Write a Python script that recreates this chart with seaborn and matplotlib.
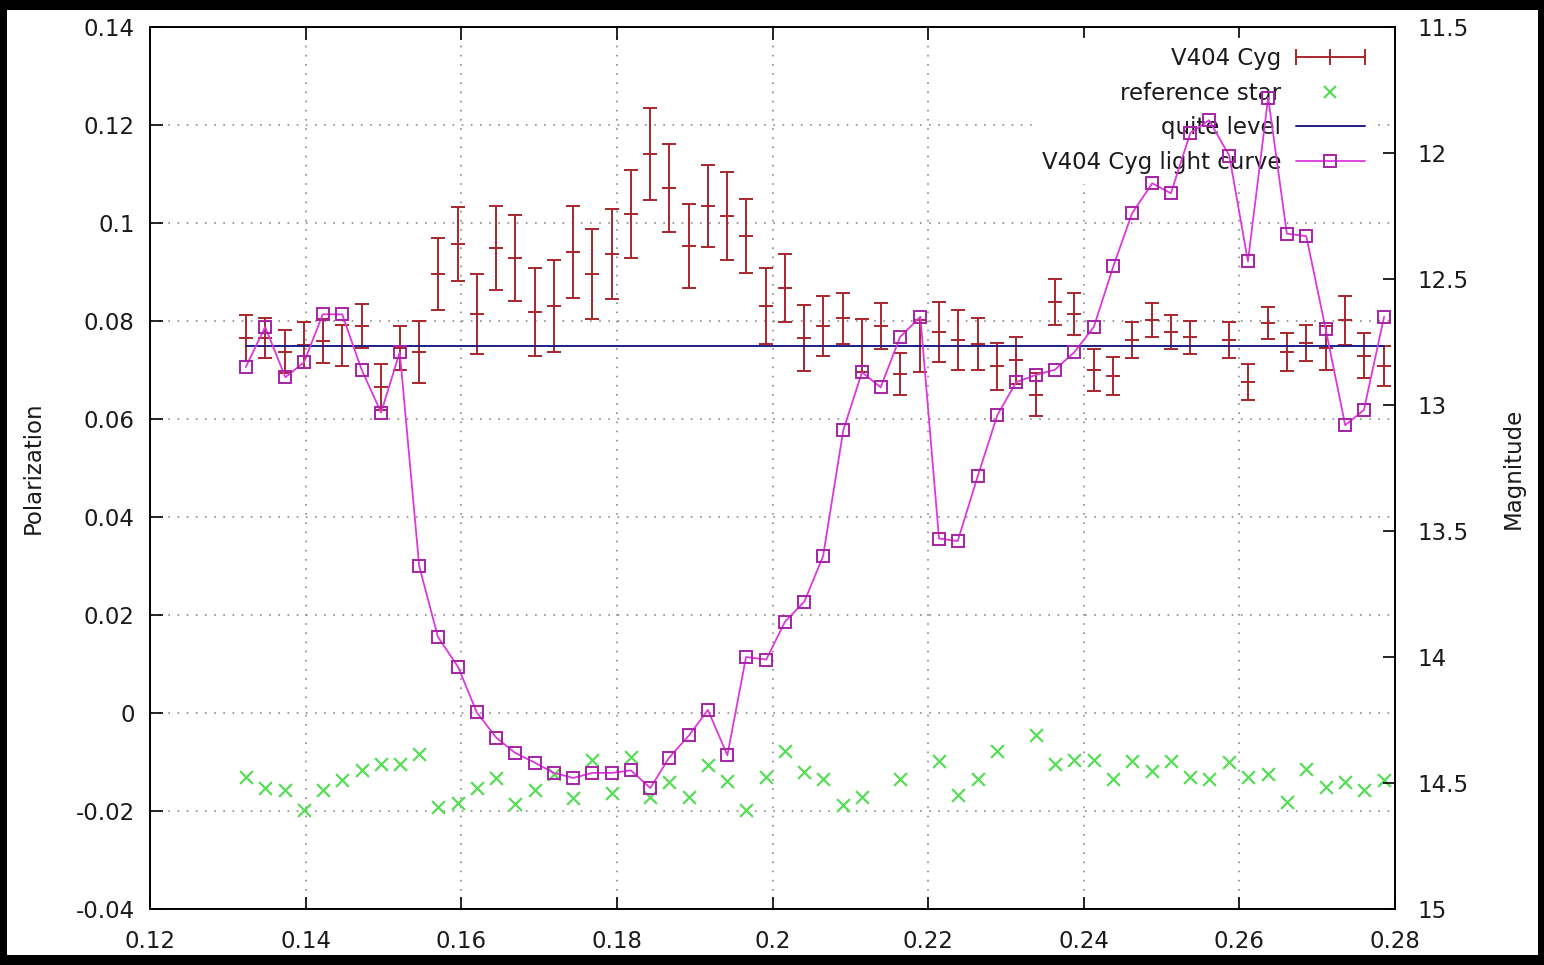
import numpy as np
import pandas as pd
import matplotlib
matplotlib.use("Agg")
import matplotlib.pyplot as plt
import seaborn as sns
from matplotlib.lines import Line2D
from matplotlib.legend_handler import HandlerLine2D
from matplotlib.patches import Rectangle

nan = np.nan

# ---------------- data ----------------
phase = [0.1323, 0.1348, 0.1374, 0.1398, 0.1422, 0.1447, 0.1472, 0.1497, 0.1521, 0.1546,
         0.1570, 0.1596, 0.1620, 0.1645, 0.1669, 0.1695, 0.1719, 0.1744, 0.1768, 0.1794,
         0.1818, 0.1843, 0.1867, 0.1893, 0.1917, 0.1942, 0.1966, 0.1992, 0.2016, 0.2041,
         0.2065, 0.2091, 0.2115, 0.2139, 0.2164, 0.2190, 0.2214, 0.2238, 0.2264, 0.2289,
         0.2313, 0.2339, 0.2363, 0.2388, 0.2413, 0.2438, 0.2462, 0.2488, 0.2512, 0.2537,
         0.2561, 0.2587, 0.2611, 0.2637, 0.2661, 0.2686, 0.2711, 0.2736, 0.2760, 0.2786]

polarization = [0.0765, 0.0765, 0.0737, 0.0751, 0.0760, 0.0750, 0.0790, 0.0665, 0.0745, 0.0737,
                0.0896, 0.0957, 0.0814, 0.0949, 0.0929, 0.0818, 0.0831, 0.0941, 0.0896, 0.0937,
                0.1018, 0.1141, 0.1071, 0.0953, 0.1035, 0.1014, 0.0973, 0.0831, 0.0867, 0.0765,
                0.0790, 0.0806, 0.0750, 0.0790, 0.0692, 0.0749, 0.0778, 0.0761, 0.0753, 0.0708,
                0.0720, 0.0650, 0.0839, 0.0814, 0.0700, 0.0688, 0.0761, 0.0802, 0.0778, 0.0767,
                nan,    0.0761, 0.0676, 0.0796, 0.0737, 0.0755, 0.0745, 0.0802, 0.0729, 0.0708]

pol_err = [0.0047, 0.0041, 0.0044, 0.0046, 0.0045, 0.0042, 0.0045, 0.0047, 0.0045, 0.0063,
           0.0073, 0.0076, 0.0082, 0.0086, 0.0088, 0.0090, 0.0094, 0.0094, 0.0092, 0.0092,
           0.0090, 0.0094, 0.0090, 0.0086, 0.0084, 0.0090, 0.0076, 0.0077, 0.0070, 0.0068,
           0.0061, 0.0052, 0.0055, 0.0047, 0.0043, 0.0053, 0.0061, 0.0061, 0.0053, 0.0048,
           0.0048, 0.0043, 0.0047, 0.0043, 0.0043, 0.0039, 0.0037, 0.0035, 0.0035, 0.0034,
           nan,    0.0036, 0.0037, 0.0033, 0.0039, 0.0037, 0.0044, 0.0050, 0.0046, 0.0041]

reference_star = [-0.0131, -0.0154, -0.0157, -0.0198, -0.0157, -0.0137, -0.0116, -0.0105, -0.0105, -0.0084,
                  -0.0192, -0.0184, -0.0154, -0.0133, -0.0186, -0.0157, -0.0125, -0.0174, -0.0095, -0.0164,
                  -0.0089, -0.0172, -0.0140, -0.0171, -0.0106, -0.0138, -0.0198, -0.0130, -0.0078, -0.0121,
                  -0.0135, -0.0188, -0.0171, nan,     -0.0135, nan,     -0.0097, -0.0167, -0.0135, -0.0078,
                  nan,     -0.0044, -0.0105, -0.0095, -0.0095, -0.0135, -0.0097, -0.0118, -0.0097, -0.0131,
                  -0.0135, -0.0101, -0.0131, -0.0124, -0.0181, -0.0114, -0.0150, -0.0140, -0.0157, -0.0137]

magnitude = [12.85, 12.69, 12.89, 12.83, 12.64, 12.64, 12.86, 13.03, 12.79, 13.64,
             13.92, 14.04, 14.22, 14.32, 14.38, 14.42, 14.46, 14.48, 14.46, 14.46,
             14.45, 14.52, 14.40, 14.31, 14.21, 14.39, 14.00, 14.01, 13.86, 13.78,
             13.60, 13.10, 12.87, 12.93, 12.73, 12.65, 13.53, 13.54, 13.28, 13.04,
             12.91, 12.88, 12.86, 12.79, 12.69, 12.45, 12.24, 12.12, 12.16, 11.92,
             11.87, 12.01, 12.43, 11.78, 12.32, 12.33, 12.70, 13.08, 13.02, 12.65]

quiet_level = 0.075

x_ticks = [0.12, 0.14, 0.16, 0.18, 0.20, 0.22, 0.24, 0.26, 0.28]
x_tick_labels = ["0.12", "0.14", "0.16", "0.18", "0.2", "0.22", "0.24", "0.26", "0.28"]
y_ticks = [-0.04, -0.02, 0.0, 0.02, 0.04, 0.06, 0.08, 0.10, 0.12, 0.14]
y_tick_labels = ["-0.04", "-0.02", "0", "0.02", "0.04", "0.06", "0.08", "0.1", "0.12", "0.14"]
y2_ticks = [11.5, 12.0, 12.5, 13.0, 13.5, 14.0, 14.5, 15.0]
y2_tick_labels = ["11.5", "12", "12.5", "13", "13.5", "14", "14.5", "15"]

series_labels = ["V404 Cyg", "reference star", "quite level", "V404 Cyg light curve"]

# ---------------- style ----------------
RED = "#a8262c"
GREEN = "#55dd55"
NAVY = "#1e1e86"
MAG_LINE = "#dc38dc"
MAG_EDGE = "#a524a5"
TXT = "#1a1a1a"
FS = 16.5

sns.set_theme(style="white")
plt.rcParams["font.family"] = ["DejaVu Sans"]

W, H = 1544, 965
fig = plt.figure(figsize=(W / 100, H / 100), dpi=100, facecolor="white")
L, R, T, B = 150, 1395, 27, 909
ax = fig.add_axes([L / W, 1 - B / H, (R - L) / W, (B - T) / H])
ax.set_facecolor("white")
ax2 = ax.twinx()

df = pd.DataFrame({"phase": phase, "pol": polarization, "err": pol_err,
                   "ref": reference_star, "mag": magnitude})

# polarization with error bars
ax.errorbar(df["phase"], df["pol"], yerr=df["err"], fmt="none", ecolor=RED,
            elinewidth=1.4, capsize=5, capthick=1.4, zorder=3)
ax.plot(df["phase"], df["pol"], ls="none", marker="_", ms=10, mew=1.4, color=RED, zorder=3)

# reference star
sns.scatterplot(data=df, x="phase", y="ref", marker="x", color=GREEN, s=85,
                linewidth=1.6, ax=ax, zorder=3, legend=False)

# quiet level
ax.plot([df["phase"].iloc[0], df["phase"].iloc[-1]], [quiet_level, quiet_level],
        color=NAVY, lw=1.4, zorder=3)

# light curve on right axis
sns.lineplot(data=df, x="phase", y="mag", ax=ax2, color=MAG_LINE, lw=1.3,
             marker="s", ms=9, mfc="none", mec=MAG_EDGE, mew=1.4,
             estimator=None, sort=False, legend=False, zorder=4)

# axes setup
ax.set_xlim(0.12, 0.28)
ax.set_ylim(-0.04, 0.14)
ax2.set_ylim(15, 11.5)
ax.set_xticks(x_ticks)
ax.set_xticklabels(x_tick_labels)
ax.set_yticks(y_ticks)
ax.set_yticklabels(y_tick_labels)
ax2.set_yticks(y2_ticks)
ax2.set_yticklabels(y2_tick_labels)

ax.grid(True, color="#8a8a8a", linestyle=(0, (1, 4.5)), linewidth=1.2)
ax.set_axisbelow(True)
ax2.grid(False)

ax.tick_params(axis="x", direction="in", length=9, width=1.2, top=True, bottom=True,
               labelsize=FS, labelcolor=TXT, pad=15, color="black")
ax.tick_params(axis="y", direction="in", length=9, width=1.2, left=True, right=False,
               labelsize=FS, labelcolor=TXT, pad=11, color="black")
ax2.tick_params(axis="y", direction="in", length=9, width=1.2, right=True,
                labelsize=FS, labelcolor=TXT, pad=16, color="black")

for a in (ax, ax2):
    for s in a.spines.values():
        s.set_color("black")
        s.set_linewidth(1.2)

ax.set_xlabel("")
ax.set_ylabel("Polarization", fontsize=FS, color=TXT)
ax.yaxis.set_label_coords((45 - L) / (R - L), 0.5)
ax2.set_ylabel("Magnitude", fontsize=FS, color=TXT)
ax2.yaxis.set_label_coords((1502 - L) / (R - L), 0.5)

# legend
h_err = Line2D([], [], color=RED, lw=1.4, marker="|", ms=11, mew=1.4)
h_ref = Line2D([], [], ls="none", color=GREEN, marker="x", ms=8, mew=1.6)
h_q = Line2D([], [], color=NAVY, lw=1.4)
h_lc = Line2D([], [], color=MAG_LINE, lw=1.3, marker="s", ms=9, mfc="none", mec=MAG_EDGE, mew=1.4)
leg = ax.legend([h_err, h_ref, h_q, h_lc], series_labels,
                handler_map={h_err: HandlerLine2D(numpoints=3, marker_pad=0)},
                loc="upper right", bbox_to_anchor=((1374 - L) / (R - L), 1 - (38 - T) / (B - T)),
                borderaxespad=0, frameon=True, fancybox=False, framealpha=1,
                facecolor="white", edgecolor="white", fontsize=FS, markerfirst=False,
                handlelength=3.0, handletextpad=0.65, labelspacing=0.5, borderpad=0.4)
for t in leg.get_texts():
    t.set_color(TXT)
leg.set_zorder(5)

# dark border of the original picture
for rect in [(0, 0, 1, 10 / H), (0, 1 - 10 / H, 1, 10 / H), (0, 0, 7 / W, 1), (1 - 6 / W, 0, 6 / W, 1)]:
    fig.patches.append(Rectangle(rect[:2], rect[2], rect[3], transform=fig.transFigure,
                                 facecolor="black", edgecolor="none", zorder=10))

fig.savefig("out.png", dpi=100, facecolor=fig.get_facecolor())
